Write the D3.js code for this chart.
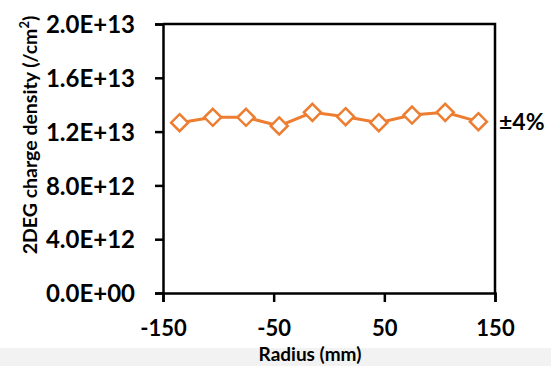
<!DOCTYPE html>
<html>
<head>
<meta charset="utf-8">
<script src="https://cdn.jsdelivr.net/npm/d3@7"></script>
<style>
  html, body { margin: 0; padding: 0; background: #fff; }
  svg { display: block; font-family: Lato, "Open Sans", sans-serif; font-weight: bold; }
</style>
</head>
<body>
<svg id="chart" width="551" height="366"></svg>
<script>
// radius positions (mm) and measured 2DEG density (/cm2)
const radius = [-135, -105, -75, -45, -15, 15, 45, 75, 105, 135];
const density = [1.266e13, 1.306e13, 1.306e13, 1.242e13, 1.343e13, 1.311e13, 1.266e13, 1.323e13, 1.343e13, 1.274e13];
const yTicks = [0, 4e12, 8e12, 1.2e13, 1.6e13, 2e13];
const xTicks = [-150, -50, 50, 150];
const note = "±4%";

let svg = d3.select("#chart");
let plotL = 163, plotR = 495, plotT = 24, plotB = 293;
let orange = "#ED7D31";

// grey strip at the bottom of the picture
svg.append("rect")
    .attr("x", 0).attr("y", 348)
    .attr("width", 551).attr("height", 18)
    .attr("fill", "#f2f2f2");

let x = d3.scaleLinear().domain([-150, 150]).range([plotL, plotR]);
let y = d3.scaleLinear().domain([0, 2e13]).range([plotB, plotT]);

// format like Excel scientific: 1.2E+13
let sci = function(d) {
    if (d === 0) return "0.0E+00";
    let e = Math.floor(Math.log10(d));
    let m = d / Math.pow(10, e);
    return m.toFixed(1) + "E+" + String(e).padStart(2, "0");
};

//frame: top and right lines
svg.append("path")
    .attr("d", `M${plotL},${plotT}H${plotR}V${plotB}`)
    .attr("fill", "none")
    .attr("stroke", "#000")
    .attr("stroke-width", 2.5);

let yaxis = svg.append("g")
    .attr("transform", `translate(${plotL},0)`)
    .call(d3.axisLeft(y).tickValues(yTicks).tickFormat(sci).tickSize(8).tickPadding(20));
let xaxis = svg.append("g")
    .attr("transform", `translate(0,${plotB})`)
    .call(d3.axisBottom(x).tickValues(xTicks).tickFormat(d => String(d)).tickSize(9).tickPadding(27));

[yaxis, xaxis].forEach(function(a) {
    a.select(".domain").attr("stroke", "#000").attr("stroke-width", 2.5);
    a.selectAll(".tick line").attr("stroke", "#000").attr("stroke-width", 2.5);
    a.selectAll("text")
        .attr("fill", "#000")
        .style("font-family", "Lato, 'Open Sans', sans-serif")
        .style("font-weight", "bold")
        .style("font-size", "24px");
});
yaxis.selectAll("text").attr("dy", "0.36em");
// baseline of x labels near y = 336
xaxis.selectAll("text").attr("dy", "0.32em").style("font-size", "22px");

// line and diamonds
let pts = radius.map((r, i) => [r, density[i]]);
svg.append("path")
    .datum(pts)
    .attr("d", d3.line().x(d => x(d[0])).y(d => y(d[1])))
    .attr("fill", "none")
    .attr("stroke", orange)
    .attr("stroke-width", 3);

svg.selectAll(".mk")
    .data(pts)
    .enter()
    .append("path")
    .attr("class", "mk")
    .attr("transform", d => `translate(${x(d[0])},${y(d[1])})`)
    .attr("d", "M0,-8.5L8.5,0L0,8.5L-8.5,0Z")
    .attr("fill", "#fff")
    .attr("stroke", orange)
    .attr("stroke-width", 2.5);

//labels
svg.append("text")
    .attr("x", 499).attr("y", 130)
    .attr("font-size", "23px")
    .attr("fill", "#000")
    .text(note);

svg.append("text")
    .attr("transform", "translate(37,135) rotate(-90)")
    .attr("text-anchor", "middle")
    .attr("font-size", "19.5px")
    .attr("fill", "#000")
    .html("2DEG charge density (/cm<tspan dy='-8' font-size='13px'>2</tspan><tspan dy='8'>)</tspan>");

svg.append("text")
    .attr("x", 310).attr("y", 361)
    .attr("text-anchor", "middle")
    .attr("font-size", "19px")
    .attr("fill", "#000")
    .text("Radius (mm)");
</script>
</body>
</html>
